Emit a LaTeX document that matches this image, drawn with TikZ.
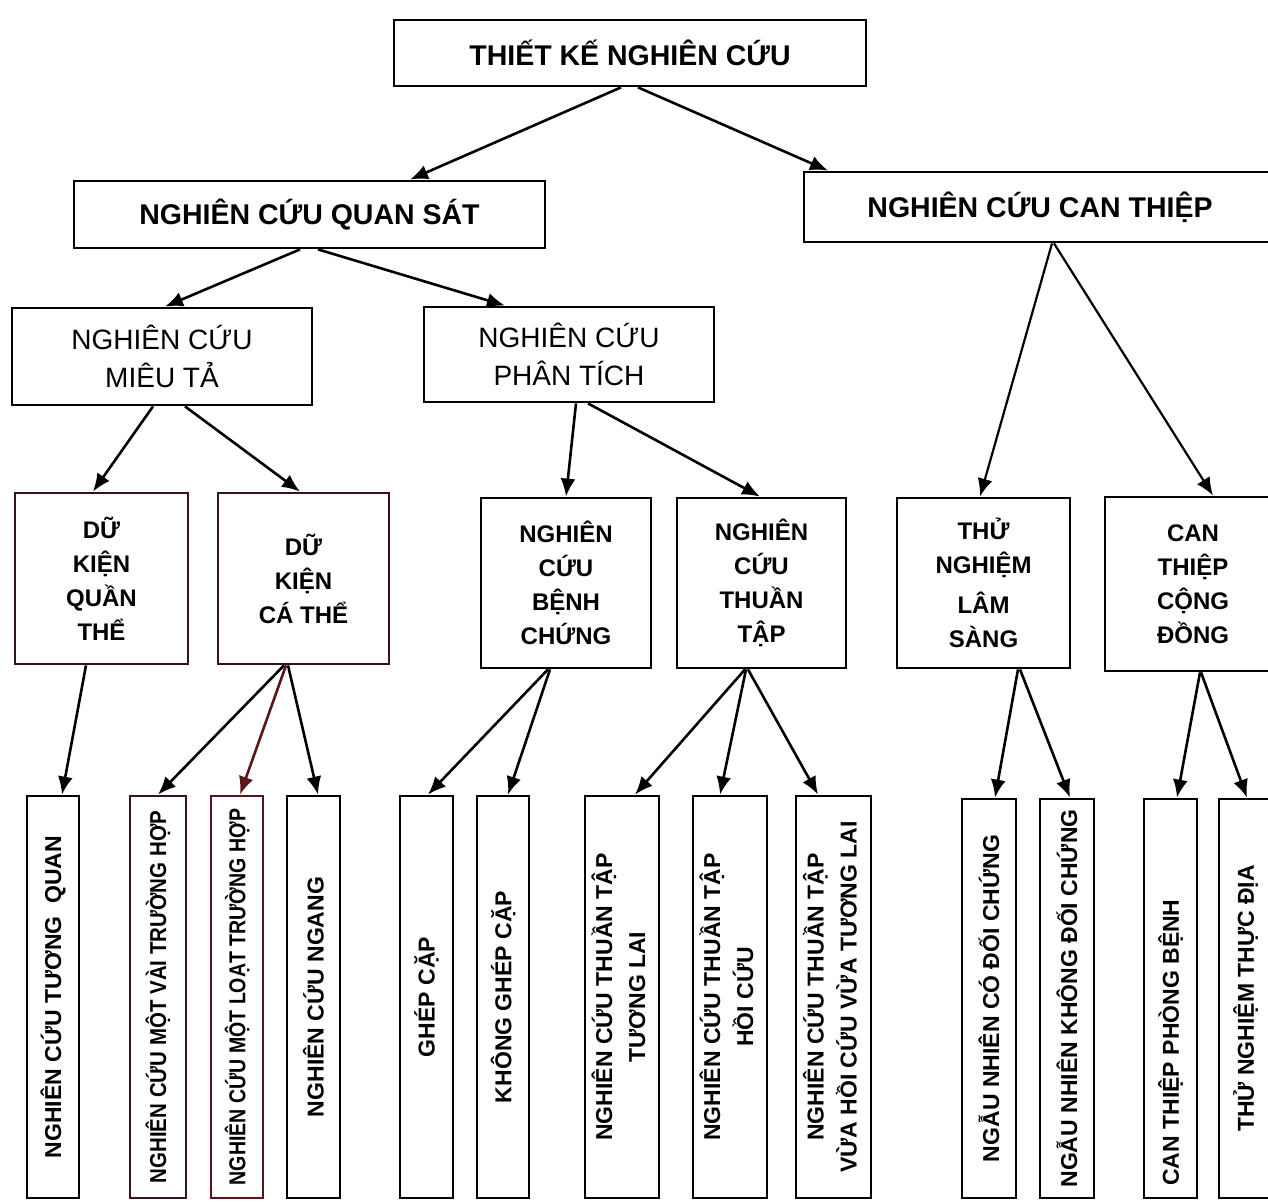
\documentclass[tikz,border=0pt]{standalone}
\usepackage{fontspec}
\setmainfont{Liberation Sans}
\usetikzlibrary{arrows.meta}
\definecolor{maroonline}{RGB}{88,22,28}
\definecolor{darkmaroon}{RGB}{55,18,22}
\newcommand{\vtext}[1]{\rotatebox{90}{#1}}
\newcommand{\vtwo}[2]{\rotatebox{90}{\begin{tabular}{@{}c@{}}#1\\#2\end{tabular}}}
\begin{document}
\begin{tikzpicture}[
  x=0.5pt, y=-0.5pt,
  box/.style={draw, line width=1.4pt, inner sep=0pt, align=center},
  hdr/.style={font=\fontsize{14.25}{19}\selectfont\bfseries},
  mid/.style={font=\fontsize{14}{19}\selectfont},
  sub/.style={font=\fontsize{12}{17}\selectfont\bfseries},
  leaf/.style={box, minimum height=201pt, font=\fontsize{11.5}{16.5}\selectfont\bfseries},
  leafb/.style={box, minimum height=199.5pt, font=\fontsize{11.5}{16.5}\selectfont\bfseries},
  arr/.style={-{Latex[length=9pt,width=7.5pt]}, line width=1.3pt},
]
\useasboundingbox[fill=white] (0,0) rectangle (1268,1202);

% level 1 and 2
\node[box, hdr, minimum width=236pt, minimum height=33pt] (top) at (630,53) {THIẾT KẾ NGHIÊN CỨU};
\node[box, hdr, minimum width=235.5pt, minimum height=33.5pt] (qs) at (309.5,214.5) {NGHIÊN CỨU QUAN SÁT};
\node[box, hdr, minimum width=236pt, minimum height=35pt] (ct) at (1040,207) {NGHIÊN CỨU CAN THIỆP};

% level 3
\node[box, mid, minimum width=150pt, minimum height=48.5pt] (mt) at (162,356.5) {NGHIÊN CỨU\\MIÊU TẢ};
\node[box, mid, minimum width=145pt, minimum height=47.5pt] (pt) at (569,354.5) {NGHIÊN CỨU\\PHÂN TÍCH};

% level 4
\node[box, sub, draw=darkmaroon, minimum width=86.5pt, minimum height=85.5pt] (dq) at (101.5,578.5) {DỮ\\KIỆN\\QUẦN\\THỂ};
\node[box, sub, draw=darkmaroon, minimum width=85.5pt, minimum height=85.5pt] (dc) at (303.5,578.5) {DỮ\\KIỆN\\CÁ THỂ};
\node[box, sub, minimum width=85pt, minimum height=85pt] (bc) at (566,583) {NGHIÊN\\CỨU\\BỆNH\\CHỨNG};
\node[box, sub, minimum width=84.5pt, minimum height=85pt] (tt) at (761.5,583) {NGHIÊN\\CỨU\\THUẦN\\TẬP};
\node[box, sub, minimum width=86.5pt, minimum height=85pt] (ls) at (983.5,583) {THỬ\\NGHIỆM\\[3pt]LÂM\\SÀNG};
\node[box, sub, minimum width=88pt, minimum height=87pt] (cd) at (1193,584) {CAN\\THIỆP\\CỘNG\\ĐỒNG};

% leaves
\node[leaf, minimum width=26pt] (b1) at (53,997) {\vtext{NGHIÊN CỨU TƯƠNG\ \ QUAN}};
\node[leaf, draw=darkmaroon, minimum width=28pt] (b2) at (158,997) {\vtext{\scalebox{0.89}[1]{NGHIÊN CỨU MỘT VÀI TRƯỜNG HỢP}}};
\node[leaf, draw=maroonline, minimum width=26pt] (b3) at (237,997) {\vtext{\scalebox{0.85}[1]{NGHIÊN CỨU MỘT LOẠT TRƯỜNG HỢP}}};
\node[leaf, minimum width=26.5pt] (b4) at (313.5,997) {\vtext{NGHIÊN CỨU NGANG}};
\node[leaf, minimum width=26.5pt] (b5) at (426.5,997) {\vtext{GHÉP CẶP}};
\node[leaf, minimum width=26pt] (b6) at (503,997) {\vtext{KHÔNG GHÉP CẶP}};
\node[leaf, minimum width=37pt] (b7) at (622,997) {\vtwo{NGHIÊN CỨU THUẦN TẬP}{TƯƠNG LAI}};
\node[leaf, minimum width=37pt] (b8) at (730,997) {\vtwo{NGHIÊN CỨU THUẦN TẬP}{HỒI CỨU}};
\node[leaf, minimum width=37.5pt] (b9) at (833.5,997) {\vtwo{NGHIÊN CỨU THUẦN TẬP}{VỪA HỒI CỨU VỪA TƯƠNG LAI}};
\node[leafb, minimum width=27pt] (b10) at (989,998.5) {\vtext{NGẪU NHIÊN CÓ ĐỐI CHỨNG}};
\node[leafb, minimum width=27pt] (b11) at (1067,998.5) {\vtext{NGẪU NHIÊN KHÔNG ĐỐI CHỨNG}};
\node[leafb, minimum width=26.5pt] (b12) at (1170.5,998.5) {\vtext{\kern-44pt CAN THIỆP PHÒNG BỆNH}};
\node[leafb, minimum width=26.5pt] (b13) at (1245.5,998.5) {\vtext{THỬ NGHIỆM THỰC ĐỊA}};

% connectors
\draw[arr] ([xshift=-4.5pt]top.south) -- ([xshift=50.25pt]qs.north);
\draw[arr] ([xshift=4pt]top.south) -- ([xshift=-106pt]ct.north);
\draw[arr] ([xshift=-4.75pt]qs.south) -- ([xshift=1.5pt]mt.north);
\draw[arr] ([xshift=4.25pt]qs.south) -- ([xshift=-32pt]pt.north);
\draw[arr, line width=1.1pt] ([xshift=6pt]ct.south) -- ([xshift=-1.75pt]ls.north);
\draw[arr, line width=1.1pt] ([xshift=7pt]ct.south) -- ([xshift=10pt]cd.north);
\draw[arr] ([xshift=-4.5pt]mt.south) -- ([xshift=-4.25pt]dq.north);
\draw[arr] ([xshift=11.5pt]mt.south) -- ([xshift=-1.75pt]dc.north);
\draw[arr] ([xshift=3.5pt]pt.south) -- (bc.north);
\draw[arr] ([xshift=9.5pt]pt.south) -- ([xshift=-0.75pt]tt.north);
\draw[arr] ([xshift=-7.75pt]dq.south) -- ([xshift=4.5pt]b1.north);
\draw[arr] ([xshift=-9.75pt]dc.south) -- (b2.north);
\draw[arr, draw=maroonline, fill=maroonline] ([xshift=-8.75pt]dc.south) -- ([xshift=1.5pt]b3.north);
\draw[arr] ([xshift=-7.75pt]dc.south) -- ([xshift=2.25pt]b4.north);
\draw[arr] ([xshift=-9pt]bc.south) -- ([xshift=0.75pt]b5.north);
\draw[arr] ([xshift=-8pt]bc.south) -- ([xshift=2.5pt]b6.north);
\draw[arr] ([xshift=-8.25pt]tt.south) -- ([xshift=6.5pt]b7.north);
\draw[arr] ([xshift=-7.75pt]tt.south) -- ([xshift=-5pt]b8.north);
\draw[arr] ([xshift=-6.75pt]tt.south) -- ([xshift=-7.75pt]b9.north);
\draw[arr] ([xshift=17.25pt]ls.south) -- ([xshift=3pt]b10.north);
\draw[arr] ([xshift=18.25pt]ls.south) -- ([xshift=1.5pt]b11.north);
\draw[arr] ([xshift=3.5pt]cd.south) -- ([xshift=3.25pt]b12.north);
\draw[arr] ([xshift=4pt]cd.south) -- ([xshift=0.75pt]b13.north);
\end{tikzpicture}
\end{document}
